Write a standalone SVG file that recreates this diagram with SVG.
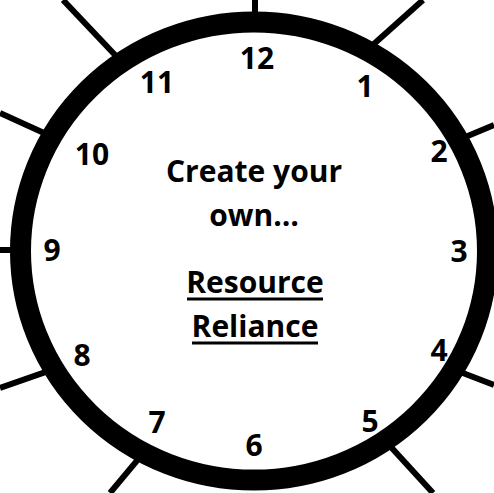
<svg xmlns="http://www.w3.org/2000/svg" width="494" height="493" viewBox="0 0 494 493">
<style>
.sp{stroke:#000;stroke-width:6;fill:none}
.ring{fill:#fff;stroke:#000;stroke-width:21}
.t{font-family:"Open Sans","Liberation Sans",sans-serif;font-weight:bold;font-size:30px;fill:#000;text-anchor:middle}
.ul{stroke:#000;stroke-width:3}
</style>
<rect width="494" height="493" fill="#fff"/>
<g id="connectors">
<line class="sp" x1="255" y1="0" x2="255" y2="20"/>
<line class="sp" x1="423" y1="0" x2="370.5" y2="47"/>
<line class="sp" x1="494" y1="125" x2="463.5" y2="137.7"/>
<line class="sp" x1="494" y1="385" x2="461.5" y2="372.5"/>
<line class="sp" x1="433" y1="493" x2="390" y2="446"/>
<line class="sp" x1="110" y1="493" x2="139.5" y2="457.6"/>
<line class="sp" x1="0" y1="388" x2="49.6" y2="370.7"/>
<line class="sp" x1="0" y1="250" x2="18" y2="250"/>
<line class="sp" x1="0" y1="113" x2="48.4" y2="134.9"/>
<line class="sp" x1="63" y1="0" x2="119.8" y2="60"/>
</g>
<g id="clock-face">
<ellipse class="ring" cx="254" cy="251" rx="233.5" ry="229"/>
</g>
<g id="n12"><text class="t" x="257" y="69">12</text></g>
<g id="n1"><text class="t" x="365" y="97">1</text></g>
<g id="n2"><text class="t" x="439" y="162">2</text></g>
<g id="n3"><text class="t" x="459" y="262">3</text></g>
<g id="n4"><text class="t" x="439" y="361">4</text></g>
<g id="n5"><text class="t" x="370" y="432">5</text></g>
<g id="n6"><text class="t" x="254" y="456">6</text></g>
<g id="n7"><text class="t" x="157" y="433">7</text></g>
<g id="n8"><text class="t" x="82" y="366">8</text></g>
<g id="n9"><text class="t" x="52" y="261">9</text></g>
<g id="n10"><text class="t" x="92" y="165">10</text></g>
<g id="n11"><text class="t" x="157" y="93">11</text></g>
<g id="title">
<text class="t" x="254" y="182">Create your</text>
<text class="t" x="254" y="226">own…</text>
<text class="t" x="255" y="293">Resource</text>
<line class="ul" x1="187" y1="299" x2="323" y2="299"/>
<text class="t" x="255" y="337">Reliance</text>
<line class="ul" x1="192" y1="343" x2="318" y2="343"/>
</g>
</svg>
